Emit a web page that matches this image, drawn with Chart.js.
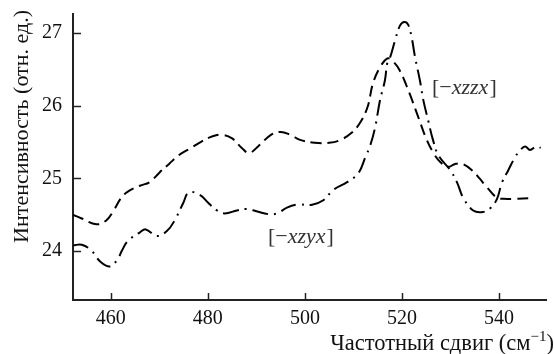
<!DOCTYPE html>
<html>
<head>
<meta charset="utf-8">
<script src="https://cdn.jsdelivr.net/npm/chart.js@4.4.1/dist/chart.umd.min.js"></script>
<style>
  html, body { margin: 0; padding: 0; background: #fff; }
  #wrap { width: 554px; height: 354px; }
</style>
</head>
<body>
<div id="wrap"><canvas id="ramanChart"></canvas></div>
<script>
// [-xzzx] (штриховая)
var xzzxShift = [452.2, 454, 457, 459, 460.5, 462, 463.5, 466, 468, 470, 472, 474, 476, 478.5, 481, 483, 485, 487, 488.5, 490.5, 493, 495, 497, 499, 502, 505, 507, 509.5, 511.5, 513, 514, 515.5, 517, 518, 519.5, 521.5, 523.5, 525, 526.5, 528, 529.5, 531, 532.5, 534.5, 536, 537.5, 539.5, 541, 543, 547];
var xzzxValue = [24.50, 24.45, 24.37, 24.42, 24.55, 24.72, 24.82, 24.90, 24.95, 25.08, 25.20, 25.32, 25.40, 25.50, 25.58, 25.60, 25.55, 25.42, 25.35, 25.45, 25.60, 25.64, 25.60, 25.53, 25.49, 25.49, 25.52, 25.62, 25.78, 26.00, 26.30, 26.53, 26.65, 26.62, 26.49, 26.18, 25.82, 25.55, 25.35, 25.22, 25.16, 25.20, 25.20, 25.11, 25.00, 24.88, 24.74, 24.72, 24.72, 24.73];

// [-xzyx] (штрихпунктир)
var xzyxShift = [452.2, 454, 456, 457.8, 459.8, 461.3, 462.3, 463.5, 466, 467.2, 469.5, 471.6, 473.2, 474.9, 476.1, 478.4, 480, 481.9, 483.5, 486, 488, 490, 492.4, 494.3, 496.3, 498.4, 501.5, 503.8, 505.8, 508.7, 511, 512.5, 513.5, 514.5, 515.5, 516.5, 517, 517.6, 518.6, 519.6, 520.5, 521.3, 522, 522.7, 523.7, 524.4, 525.4, 526.4, 527.5, 530, 531.4, 532.6, 534.7, 536.7, 538.2, 539.6, 540.6, 541.9, 543.3, 544.4, 545.4, 546.4, 547.7, 548.6];
var xzyxValue = [24.08, 24.09, 24.01, 23.86, 23.79, 23.88, 24.01, 24.14, 24.26, 24.30, 24.21, 24.28, 24.43, 24.66, 24.81, 24.77, 24.67, 24.56, 24.52, 24.56, 24.58, 24.55, 24.51, 24.52, 24.60, 24.64, 24.64, 24.70, 24.84, 24.95, 25.07, 25.30, 25.46, 25.71, 26.08, 26.35, 26.59, 26.67, 26.90, 27.10, 27.15, 27.11, 26.94, 26.67, 26.35, 26.08, 25.80, 25.53, 25.32, 25.11, 24.94, 24.74, 24.56, 24.54, 24.59, 24.72, 24.94, 25.11, 25.29, 25.39, 25.44, 25.39, 25.44, 25.42];

var xTicks = [460, 480, 500, 520, 540];
var yTicks = [24, 25, 26, 27];

var seriesLabels = [
  { head: "[\u2212", ital: "xzzx", tail: "]", x: 526.2, y: 26.24 },
  { head: "[\u2212", ital: "xzyx", tail: "]", x: 492.4, y: 24.19 }
];

var FONT = "'Liberation Serif', 'DejaVu Serif', serif";

function toPoints(xs, ys) {
  return xs.map(function(x, i){ return { x: x, y: ys[i] }; });
}

// тики внутрь, подписи серий и заголовки осей
var extras = {
  id: 'extras',
  afterDraw: function(chart) {
    var c = chart.ctx, xs = chart.scales.x, ys = chart.scales.y;
    var a = chart.chartArea;
    c.save();
    c.strokeStyle = '#222';
    c.lineWidth = 1.5;
    xTicks.forEach(function(t){
      var px = Math.round(xs.getPixelForValue(t)) + 0.5;
      c.beginPath(); c.moveTo(px, a.bottom); c.lineTo(px, a.bottom - 7); c.stroke();
    });
    yTicks.forEach(function(t){
      var py = Math.round(ys.getPixelForValue(t)) + 0.5;
      c.beginPath(); c.moveTo(a.left, py); c.lineTo(a.left + 8, py); c.stroke();
    });

    // подписи серий
    c.fillStyle = '#333';
    c.textBaseline = 'middle';
    c.textAlign = 'left';
    seriesLabels.forEach(function(l){
      var px = xs.getPixelForValue(l.x), py = ys.getPixelForValue(l.y);
      c.font = "22px " + FONT;
      c.fillText(l.head, px, py);
      px += c.measureText(l.head).width;
      c.font = "italic 22px " + FONT;
      c.fillText(l.ital, px, py);
      px += c.measureText(l.ital).width + 1;
      c.font = "22px " + FONT;
      c.fillText(l.tail, px, py);
    });

    // заголовок оси X (справа)
    c.fillStyle = '#111';
    c.textBaseline = 'alphabetic';
    var main = "Частотный сдвиг (см", sup = "\u22121", close = ")";
    c.font = "22.5px " + FONT;
    var w1 = c.measureText(main).width, w3 = c.measureText(close).width;
    c.font = "15px " + FONT;
    var w2 = c.measureText(sup).width;
    var x0 = 554 - (w1 + w2 + w3), base = 350;
    c.font = "22.5px " + FONT;
    c.fillText(main, x0, base);
    c.font = "15px " + FONT;
    c.fillText(sup, x0 + w1, base - 9);
    c.font = "22.5px " + FONT;
    c.fillText(close, x0 + w1 + w2, base);

    // заголовок оси Y
    c.translate(22, 10);
    c.rotate(-Math.PI / 2);
    c.textAlign = 'right';
    c.textBaseline = 'middle';
    c.font = "22px " + FONT;
    c.fillText("Интенсивность (отн. ед.)", 0, 0);
    c.restore();
  }
};

document.addEventListener("DOMContentLoaded", function(){
  var ctx = document.getElementById("ramanChart");
  new Chart(ctx, {
    type: 'line',
    data: {
      datasets: [{
        label: '[-xzzx]',
        data: toPoints(xzzxShift, xzzxValue),
        borderColor: '#000',
        borderWidth: 2,
        borderDash: [11, 6],
        pointRadius: 0,
        tension: 0.4,
        fill: false
      }, {
        label: '[-xzyx]',
        data: toPoints(xzyxShift, xzyxValue),
        borderColor: '#000',
        borderWidth: 2,
        borderDash: [16, 6, 2, 6],
        pointRadius: 0,
        tension: 0.4,
        fill: false
      }]
    },
    options: {
      responsive: true,
      maintainAspectRatio: false,
      animation: false,
      layout: { padding: { top: 14, right: 8, left: 0, bottom: 0 } },
      plugins: { legend: { display: false }, tooltip: { enabled: false } },
      scales: {
        x: {
          type: 'linear',
          min: 452.2,
          max: 549.7,
          grid: { display: false, drawTicks: false, tickLength: 0 },
          border: { display: true, color: '#222', width: 2 },
          afterBuildTicks: function(s){ s.ticks = xTicks.map(function(v){ return { value: v }; }); },
          afterFit: function(s){ s.height = 54; s.paddingLeft = 0; s.paddingRight = 0; },
          ticks: { color: '#111', padding: 7, maxRotation: 0, font: { family: FONT, size: 20 } }
        },
        y: {
          type: 'linear',
          min: 23.33,
          max: 27.26,
          grid: { display: false, drawTicks: false, tickLength: 0 },
          border: { display: true, color: '#222', width: 2 },
          afterBuildTicks: function(s){ s.ticks = yTicks.map(function(v){ return { value: v }; }); },
          afterFit: function(s){ s.width = 73; s.paddingTop = 0; s.paddingBottom = 0; },
          ticks: { color: '#111', padding: 11, font: { family: FONT, size: 20 } }
        }
      }
    },
    plugins: [extras]
  });
}, false);
</script>
</body>
</html>
